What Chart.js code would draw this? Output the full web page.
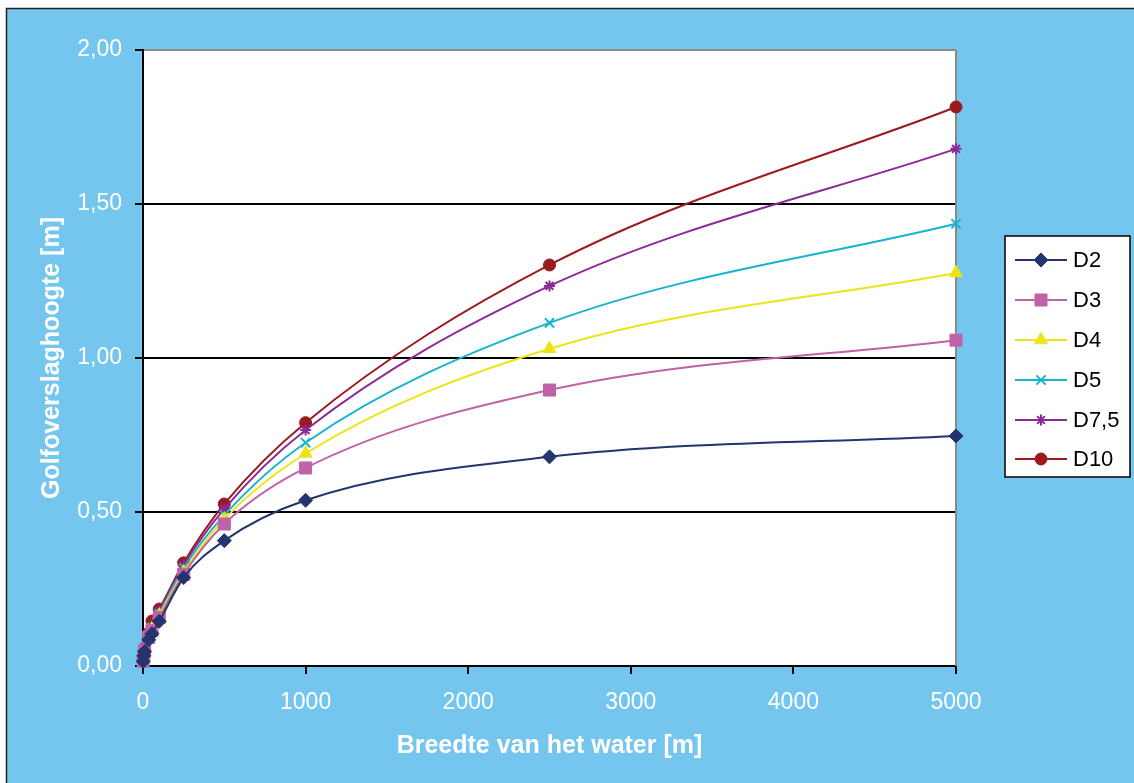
<!DOCTYPE html>
<html>
<head>
<meta charset="utf-8">
<script src="https://cdn.jsdelivr.net/npm/chart.js@4/dist/chart.umd.min.js"></script>
<style>
  html, body { margin: 0; padding: 0; background: #ffffff; }
  canvas { display: block; }
</style>
</head>
<body>
<canvas id="c" width="1134" height="783"></canvas>
<script>
// Breedte van het water [m]
const widths = [1, 5, 10, 35, 55, 100, 250, 500, 1000, 2500, 5000];

// Golfoverslaghoogte [m] per diepte
const D2  = [0.015, 0.033, 0.047, 0.085, 0.105, 0.145, 0.287, 0.407, 0.538, 0.679, 0.747];
const D3  = [0.016, 0.036, 0.050, 0.093, 0.115, 0.158, 0.298, 0.461, 0.643, 0.896, 1.058];
const D4  = [0.017, 0.037, 0.052, 0.097, 0.121, 0.165, 0.305, 0.477, 0.690, 1.030, 1.276];
const D5  = [0.017, 0.038, 0.053, 0.100, 0.125, 0.170, 0.318, 0.490, 0.725, 1.114, 1.436];
const D75 = [0.018, 0.039, 0.055, 0.103, 0.130, 0.178, 0.327, 0.510, 0.766, 1.234, 1.679];
const D10 = [0.019, 0.041, 0.057, 0.107, 0.146, 0.185, 0.335, 0.526, 0.790, 1.302, 1.815];

const seriesNames = ['D2', 'D3', 'D4', 'D5', 'D7,5', 'D10'];
const yTicks = [0, 0.5, 1.0, 1.5, 2.0];
const xTicks = [0, 1000, 2000, 3000, 4000, 5000];

const FONT = "'Liberation Sans', Arial, sans-serif";
const BG = '#75C6EE';

function pairs(vals) {
  return widths.map((w, i) => ({ x: w, y: vals[i] }));
}

function series(label, vals, color, style, radius, bw) {
  return {
    label: label,
    data: pairs(vals),
    borderColor: color,
    backgroundColor: color,
    borderWidth: 2,
    pointStyle: style,
    pointRadius: radius,
    pointHoverRadius: radius,
    pointBackgroundColor: color,
    pointBorderColor: color,
    pointBorderWidth: bw,
    cubicInterpolationMode: 'monotone',
    clip: false
  };
}

const datasets = [
  series(seriesNames[0], D2,  '#24346F', 'rectRot',  7,   1),
  series(seriesNames[1], D3,  '#C162A6', 'rect',     8.5, 1),
  series(seriesNames[2], D4,  '#ECE414', 'triangle', 7.5, 1),
  series(seriesNames[3], D5,  '#18B3CC', 'crossRot', 6.5, 2),
  series(seriesNames[4], D75, '#8C2A96', 'star',     5.5, 2),
  series(seriesNames[5], D10, '#9A1A1E', 'circle',   6,   1)
];

// background frame, plot area fill, right border and legend box
const decor = {
  id: 'decor',
  beforeDraw(chart) {
    const ctx = chart.ctx;
    const a = chart.chartArea;
    ctx.save();
    ctx.fillStyle = '#ffffff';
    ctx.fillRect(0, 0, chart.width, chart.height);
    ctx.fillStyle = BG;
    ctx.fillRect(6, 8, chart.width - 6, chart.height - 8);
    ctx.strokeStyle = '#222222';
    ctx.lineWidth = 1.5;
    ctx.beginPath();
    ctx.moveTo(6.5, chart.height);
    ctx.lineTo(6.5, 8.5);
    ctx.lineTo(chart.width, 8.5);
    ctx.stroke();
    ctx.fillStyle = '#ffffff';
    ctx.fillRect(a.left, a.top, a.right - a.left, a.bottom - a.top);
    ctx.restore();
  },
  beforeDatasetsDraw(chart) {
    const ctx = chart.ctx;
    const a = chart.chartArea;
    ctx.save();
    ctx.strokeStyle = '#8a8a8a';
    ctx.lineWidth = 2;
    ctx.beginPath();
    ctx.moveTo(a.right, a.top);
    ctx.lineTo(a.right, a.bottom);
    ctx.stroke();
    ctx.restore();
  },
  afterDraw(chart) {
    const ctx = chart.ctx;
    const box = { x: 1005, y: 236, w: 125, h: 241 };
    ctx.save();
    ctx.fillStyle = '#ffffff';
    ctx.fillRect(box.x, box.y, box.w, box.h);
    ctx.strokeStyle = '#000000';
    ctx.lineWidth = 1.5;
    ctx.strokeRect(box.x, box.y, box.w, box.h);
    const rowY = [260, 300, 340, 380, 420, 459];
    chart.data.datasets.forEach((ds, i) => {
      const y = rowY[i];
      ctx.strokeStyle = ds.borderColor;
      ctx.lineWidth = 2;
      ctx.beginPath();
      ctx.moveTo(1015, y);
      ctx.lineTo(1067, y);
      ctx.stroke();
      ctx.fillStyle = ds.pointBackgroundColor;
      ctx.strokeStyle = ds.pointBorderColor;
      ctx.lineWidth = ds.pointBorderWidth;
      Chart.helpers.drawPoint(ctx, {
        pointStyle: ds.pointStyle,
        radius: ds.pointRadius,
        rotation: 0,
        borderWidth: ds.pointBorderWidth
      }, 1041, y);
      ctx.fillStyle = '#000000';
      ctx.font = '22px ' + FONT;
      ctx.textAlign = 'left';
      ctx.textBaseline = 'middle';
      ctx.fillText(ds.label, 1073, y + 1);
    });
    ctx.restore();
  }
};

new Chart(document.getElementById('c'), {
  type: 'line',
  data: { datasets: datasets },
  plugins: [decor],
  options: {
    responsive: false,
    animation: false,
    events: [],
    layout: { padding: { left: 0, top: 50, right: 178, bottom: 0 } },
    plugins: {
      legend: { display: false },
      tooltip: { enabled: false }
    },
    scales: {
      x: {
        type: 'linear',
        min: 0,
        max: 5000,
        afterFit(scale) { scale.height = 117; },
        afterBuildTicks(scale) { scale.ticks = xTicks.map(v => ({ value: v })); },
        ticks: {
          color: '#ffffff',
          font: { family: FONT, size: 23 },
          padding: 15,
          maxRotation: 0,
          callback: v => String(v)
        },
        grid: {
          drawOnChartArea: false,
          drawTicks: true,
          tickLength: 8,
          tickColor: '#000000',
          lineWidth: 2,
          tickWidth: 2
        },
        border: { color: '#000000', width: 2 },
        title: {
          display: true,
          text: 'Breedte van het water [m]',
          color: '#ffffff',
          font: { family: FONT, size: 25, weight: 'bold' },
          padding: { top: 0, bottom: 22 }
        }
      },
      y: {
        type: 'linear',
        min: 0,
        max: 2,
        afterFit(scale) { scale.width = 143; },
        afterBuildTicks(scale) { scale.ticks = yTicks.map(v => ({ value: v })); },
        ticks: {
          color: '#ffffff',
          font: { family: FONT, size: 23 },
          padding: 13,
          callback: v => v.toFixed(2).replace('.', ',')
        },
        grid: {
          drawOnChartArea: true,
          drawTicks: true,
          tickLength: 8,
          tickColor: '#000000',
          tickWidth: 2,
          lineWidth: 2,
          color: ctx => (ctx.tick && ctx.tick.value === 2 ? '#8a8a8a' : '#000000')
        },
        border: { color: '#000000', width: 2 },
        title: {
          display: true,
          text: 'Golfoverslaghoogte [m]',
          color: '#ffffff',
          font: { family: FONT, size: 25, weight: 'bold' },
          padding: { top: 37, bottom: 0 }
        }
      }
    }
  }
});
</script>
</body>
</html>
